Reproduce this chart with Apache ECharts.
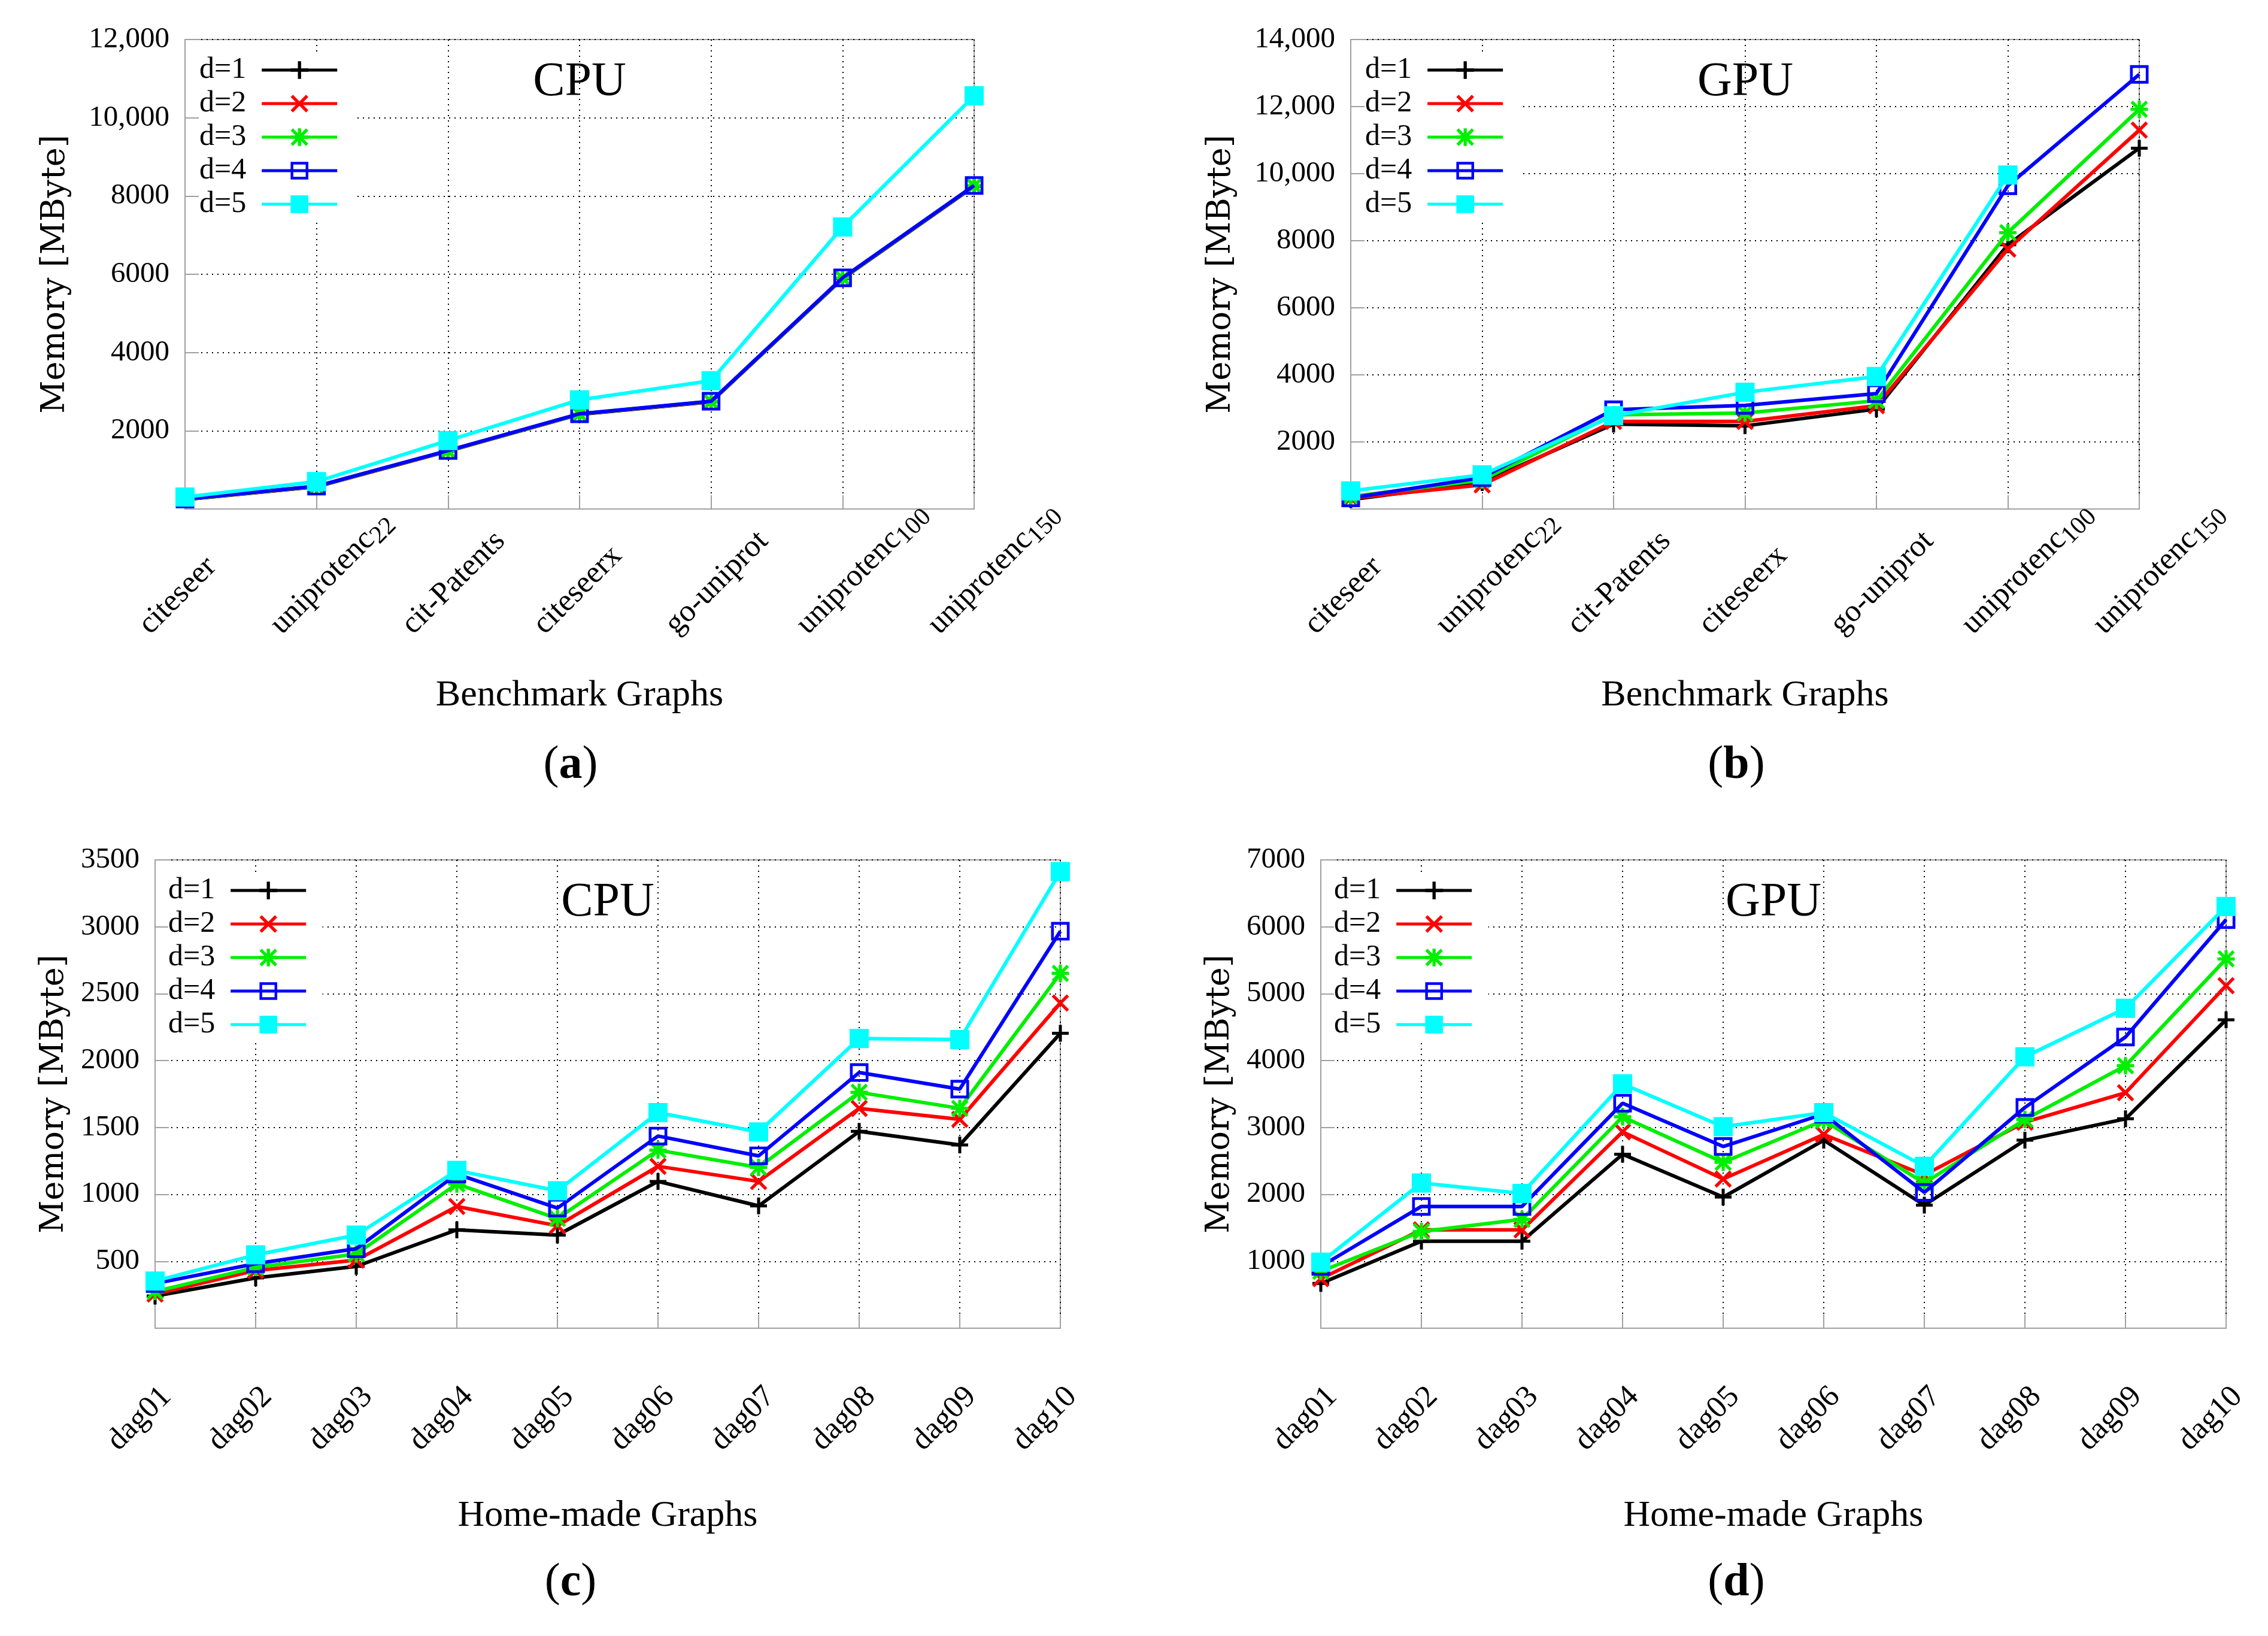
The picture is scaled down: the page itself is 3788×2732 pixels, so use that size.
<!DOCTYPE html>
<html><head><meta charset="utf-8">
<script src="https://cdn.jsdelivr.net/npm/echarts@6/dist/echarts.min.js"></script>
<style>html,body{margin:0;padding:0;background:#fff}#c{width:3788px;height:2732px}</style>
</head><body><div id="c"></div>
<script>
// ---------- data ----------
const benchCats = ['citeseer','uniprotenc22','cit-Patents','citeseerx','go-uniprot','uniprotenc100','uniprotenc150'];
const homeCats = ['dag01','dag02','dag03','dag04','dag05','dag06','dag07','dag08','dag09','dag10'];
const seriesNames = ['d=1','d=2','d=3','d=4','d=5'];

const cpuBench_d1 = [240, 570, 1480, 2420, 2740, 5890, 8250];
const cpuBench_d2 = [245, 575, 1485, 2425, 2745, 5900, 8260];
const cpuBench_d3 = [250, 580, 1490, 2430, 2750, 5905, 8265];
const cpuBench_d4 = [255, 585, 1495, 2435, 2755, 5910, 8270];
const cpuBench_d5 = [305, 700, 1750, 2790, 3280, 7210, 10560];

const gpuBench_d1 = [280, 790, 2530, 2480, 2980, 7880, 10760];
const gpuBench_d2 = [320, 720, 2610, 2610, 3080, 7750, 11300];
const gpuBench_d3 = [370, 860, 2810, 2860, 3230, 8240, 11920];
const gpuBench_d4 = [330, 940, 2960, 3090, 3440, 9640, 12960];
const gpuBench_d5 = [540, 1020, 2780, 3480, 3950, 9960, null];

const cpuHome_d1 = [240, 376, 462, 735, 696, 1097, 914, 1471, 1370, 2204];
const cpuHome_d2 = [255, 431, 509, 910, 766, 1210, 1097, 1643, 1561, 2430];
const cpuHome_d3 = [275, 454, 555, 1078, 820, 1331, 1202, 1763, 1643, 2652];
const cpuHome_d4 = [334, 482, 594, 1152, 898, 1436, 1288, 1911, 1787, 2967];
const cpuHome_d5 = [353, 548, 696, 1179, 1027, 1611, 1467, 2165, 2157, 3413];

const gpuHome_d1 = [670, 1300, 1300, 2600, 1960, 2810, 1840, 2810, 3130, 4610];
const gpuHome_d2 = [740, 1470, 1470, 2935, 2230, 2895, 2290, 3080, 3520, 5120];
const gpuHome_d3 = [850, 1446, 1626, 3160, 2480, 3106, 2170, 3120, 3924, 5520];
const gpuHome_d4 = [924, 1820, 1820, 3363, 2716, 3200, 2030, 3300, 4353, 6107];
const gpuHome_d5 = [986, 2171, 2015, 3652, 3013, 3223, 2420, 4057, 4782, 6305];

const panelTitles = ['CPU','GPU','CPU','GPU'];
const captions = ['a','b','c','d'];
const xNames = ['Benchmark Graphs','Benchmark Graphs','Home-made Graphs','Home-made Graphs'];
const yName = 'Memory [MByte]';
const yMax = [12000, 14000, 3500, 7000];
const yInterval = [2000, 2000, 500, 1000];

// ---------- style ----------
const SERIF = 'Liberation Serif';
const colors = ['#000000','#ff0000','#00ee00','#0000ff','#00ffff'];
const PLUS = 'M4.1,0H5.9V4.1H10V5.9H5.9V10H4.1V5.9H0V4.1H4.1Z';
const CROSS = 'M0,1.3L1.3,0L5,3.7L8.7,0L10,1.3L6.3,5L10,8.7L8.7,10L5,6.3L1.3,10L0,8.7L3.7,5Z';
const syms = ['path://' + PLUS, 'path://' + CROSS, 'path://' + PLUS + ' ' + CROSS,
              'path://M0,0H10V10H0Z M1.5,1.5V8.5H8.5V1.5Z', 'rect'];
const symSizes = [28, 29, 29, 31, 32];

const grids = [
  {left: 309, right: 2161, top: 66, bottom: 1882},
  {left: 2256, right: 215, top: 66, bottom: 1882},
  {left: 259, right: 2017, top: 1436, bottom: 514},
  {left: 2206, right: 70, top: 1436, bottom: 514}
];
const gridColor = '#a0a0a0';
const dotted = {color: '#000', width: 2, type: [2, 7]};

function benchFmt(v) {
  const m = /^(uniprotenc)(\d+)$/.exec(v);
  return m ? m[1] + '{s|' + m[2] + '}' : v;
}
function yFmt(v) {
  if (v === 0) return '';
  return v >= 10000 ? v.toLocaleString('en-US') : String(v);
}

const xAxes = [0,1,2,3].map(i => ({
  gridIndex: i, type: 'category', data: i < 2 ? benchCats : homeCats, boundaryGap: false,
  name: xNames[i], nameLocation: 'middle', nameGap: i < 2 ? 281 : 283, nameMoveOverlap: false,
  nameTextStyle: {fontFamily: SERIF, fontSize: 62, color: '#000'},
  axisLine: {lineStyle: {color: gridColor, width: 2}},
  axisTick: {inside: true, length: 23, interval: 0, lineStyle: {color: gridColor, width: 2}},
  axisLabel: {interval: 0, rotate: 45, align: 'left', margin: i < 2 ? 269 : 267,
    padding: [0, 0, i < 2 ? 192 : 200, 0], fontFamily: SERIF, fontSize: 52, lineHeight: 64, color: '#000',
    formatter: i < 2 ? benchFmt : null, hideOverlap: false,
    rich: {s: {fontFamily: SERIF, fontSize: 42, lineHeight: 42, padding: [22, 0, 0, 0], verticalAlign: 'top', color: '#000'}}},
  splitLine: {show: true, interval: 0, lineStyle: dotted}
}));

const yAxes = [0,1,2,3].map(i => ({
  gridIndex: i, type: 'value', min: 0, max: yMax[i], interval: yInterval[i],
  name: yName, nameLocation: 'middle', nameRotate: 90, nameGap: i < 2 ? 189 : 141, nameMoveOverlap: false,
  nameTextStyle: {fontFamily: 'DejaVu Serif', fontSize: 54, color: '#000'},
  axisLine: {show: true, lineStyle: {color: gridColor, width: 2}},
  axisTick: {show: true, inside: true, length: 23, lineStyle: {color: gridColor, width: 2}},
  axisLabel: {margin: 26, fontFamily: SERIF, fontSize: 49, color: '#000', formatter: yFmt},
  splitLine: {show: true, lineStyle: dotted}
}));

const panelData = [
  [cpuBench_d1, cpuBench_d2, cpuBench_d3, cpuBench_d4, cpuBench_d5],
  [gpuBench_d1, gpuBench_d2, gpuBench_d3, gpuBench_d4, gpuBench_d5],
  [cpuHome_d1, cpuHome_d2, cpuHome_d3, cpuHome_d4, cpuHome_d5],
  [gpuHome_d1, gpuHome_d2, gpuHome_d3, gpuHome_d4, gpuHome_d5]
];
const series = [];
panelData.forEach((arrs, gi) => arrs.forEach((data, k) => series.push({
  name: seriesNames[k], type: 'line', xAxisIndex: gi, yAxisIndex: gi, data,
  symbol: syms[k], symbolSize: symSizes[k], symbolKeepAspect: true, showAllSymbol: true,
  clip: false, z: 3 + k, animation: false,
  lineStyle: {color: colors[k], width: 6},
  itemStyle: {color: colors[k], borderWidth: 0},
  emphasis: {disabled: true}
})));

const legendPos = [[333, 89], [2280, 89], [281, 1459], [2228, 1459]];
const legends = legendPos.map(p => ({
  left: p[0], top: p[1], orient: 'vertical', align: 'right', data: seriesNames,
  itemWidth: 126, itemHeight: 37, itemGap: 0, padding: [0, 25, 0, 0],
  backgroundColor: '#fff', selectedMode: false, z: 10,
  lineStyle: {width: 5},
  textStyle: {fontFamily: SERIF, fontSize: 50, lineHeight: 56, color: '#000', padding: [0, 21, 0, 0]}
}));

const titleCenters = [968, 2915, 1015, 2962];
const titleTops = [98, 98, 1468, 1468];
const capCenters = [953, 2900, 953, 2900];
const capTops = [1240, 1240, 2605, 2605];
const titles = [];
panelTitles.forEach((t, i) => titles.push({
  text: t, left: titleCenters[i], top: titleTops[i], textAlign: 'center', padding: 0,
  textStyle: {fontFamily: SERIF, fontSize: 80, fontWeight: 'normal', color: '#000'}
}));
captions.forEach((c, i) => titles.push({
  text: '({b|' + c + '})', left: capCenters[i], top: capTops[i], textAlign: 'center', padding: 0,
  textStyle: {fontFamily: SERIF, fontSize: 78, fontWeight: 'normal', color: '#000',
    rich: {b: {fontFamily: SERIF, fontSize: 78, fontWeight: 'bold', color: '#000'}}}
}));

const chart = echarts.init(document.getElementById('c'), null, {renderer: 'canvas', devicePixelRatio: 1});
chart.setOption({
  backgroundColor: '#fff', animation: false,
  title: titles,
  legend: legends,
  grid: grids.map(g => Object.assign({show: true, borderColor: gridColor, borderWidth: 2,
    backgroundColor: 'transparent', containLabel: false, outerBoundsMode: 'none'}, g)),
  xAxis: xAxes, yAxis: yAxes, series
});
</script></body></html>
